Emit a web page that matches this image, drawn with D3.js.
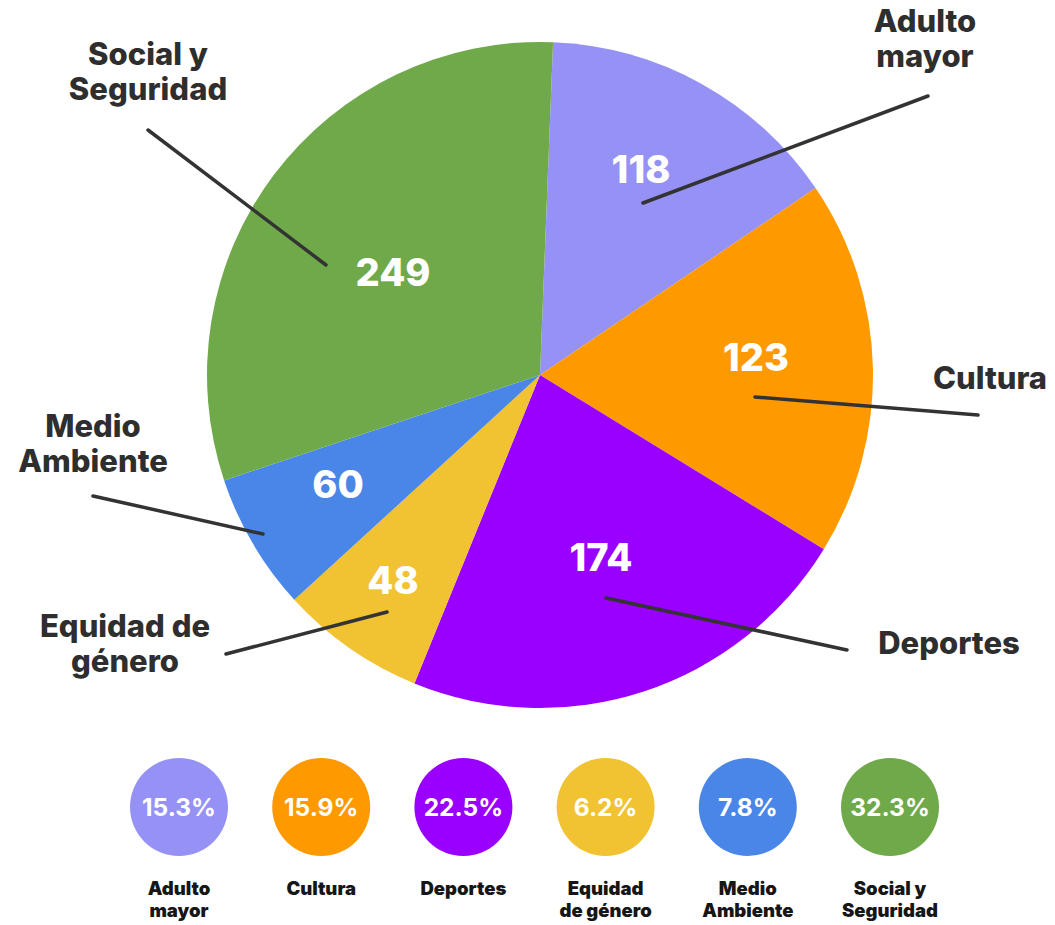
<!DOCTYPE html>
<html>
<head>
<meta charset="utf-8">
<script src="https://cdn.jsdelivr.net/npm/d3@7"></script>
<style>
  html, body { margin: 0; padding: 0; background: #ffffff; }
  svg { display: block; font-family: Inter, "Open Sans", "Noto Sans", sans-serif; }
</style>
</head>
<body>
<svg id="chart" width="1055" height="925"></svg>
<script>
// ---- data ----
const categories = ["Adulto mayor", "Cultura", "Deportes", "Equidad de género", "Medio Ambiente", "Social y Seguridad"];
const counts = [118, 123, 174, 48, 60, 249];
// sweep of each slice as drawn in the reference (degrees)
const sliceDegrees = [53.6, 65.7, 80.6, 25.4, 24.0, 110.7];
const colors = ["#9692f5", "#ff9900", "#9900ff", "#f1c232", "#4a86e8", "#6fa94a"];
// outer label lines
const outerLabelLines = [["Adulto", "mayor"], ["Cultura"], ["Deportes"], ["Equidad de", "género"], ["Medio", "Ambiente"], ["Social y", "Seguridad"]];
const legendLabelLines = [["Adulto", "mayor"], ["Cultura"], ["Deportes"], ["Equidad", "de género"], ["Medio", "Ambiente"], ["Social y", "Seguridad"]];

// ---- layout ----
const W = 1055, H = 925;
const cx = 540, cy = 375, R = 333;
const startDeg = 2.25;
// annotation offsets relative to the pie centre
const valueLabelOffset = [[101, -206], [216, -18], [61, 182], [-147, 205], [-202, 109], [-147, -103]];
const outerLabelAnchor = [[385, -343], [450, 14], [409, 279], [-415, 262], [-447, 62], [-392, -310]];
const leaderLines = [
  [[103, -172], [388, -279]],
  [[215, 22], [438, 40]],
  [[66, 223], [307, 275]],
  [[-153, 237], [-314, 279]],
  [[-277, 159], [-447, 121]],
  [[-214, -110], [-392, -245]]
];

const svg = d3.select("#chart");
const total = d3.sum(counts);
const rad = d => d * Math.PI / 180;

const pie = d3.pie()
  .sort(null)
  .value((d, i) => sliceDegrees[i])
  .startAngle(rad(startDeg))
  .endAngle(rad(startDeg) + 2 * Math.PI);

const arcs = pie(categories);
const arc = d3.arc().innerRadius(0).outerRadius(R);

const g = svg.append("g").attr("transform", `translate(${cx},${cy})`);

g.selectAll("path.slice")
  .data(arcs)
  .join("path")
  .attr("class", "slice")
  .attr("d", arc)
  .attr("fill", (d, i) => colors[i]);

// leader lines
g.selectAll("line.leader")
  .data(leaderLines)
  .join("line")
  .attr("class", "leader")
  .attr("x1", d => d[0][0]).attr("y1", d => d[0][1])
  .attr("x2", d => d[1][0]).attr("y2", d => d[1][1])
  .attr("stroke", "#333333")
  .attr("stroke-width", 3.5)
  .attr("stroke-linecap", "round");

// value labels inside slices
g.selectAll("text.val")
  .data(arcs)
  .join("text")
  .attr("class", "val")
  .attr("x", (d, i) => valueLabelOffset[i][0])
  .attr("y", (d, i) => valueLabelOffset[i][1])
  .attr("text-anchor", "middle")
  .attr("dy", "0.36em")
  .attr("fill", "#ffffff")
  .attr("font-size", 38)
  .attr("font-weight", 800)
  .text((d, i) => counts[i]);

// outer labels
categories.forEach((c, i) => {
  const t = g.append("text")
    .attr("text-anchor", "middle")
    .attr("fill", "#2e2e2e")
    .attr("font-size", 31)
    .attr("font-weight", 800);
  outerLabelLines[i].forEach((line, j) => {
    t.append("tspan")
      .attr("x", outerLabelAnchor[i][0])
      .attr("y", outerLabelAnchor[i][1] + j * 35)
      .text(line);
  });
});

// legend
const lx = d3.scalePoint().domain(categories).range([179, 890]);
const legendY = 807, legendR = 49;
const lg = svg.append("g");
lg.selectAll("circle")
  .data(categories)
  .join("circle")
  .attr("cx", d => lx(d))
  .attr("cy", legendY)
  .attr("r", legendR)
  .attr("fill", (d, i) => colors[i]);

lg.selectAll("text.pct")
  .data(categories)
  .join("text")
  .attr("class", "pct")
  .attr("x", d => lx(d))
  .attr("y", legendY)
  .attr("dy", "0.36em")
  .attr("text-anchor", "middle")
  .attr("fill", "#ffffff")
  .attr("font-size", 24.5)
  .attr("font-weight", 700)
  .text((d, i) => (counts[i] / total * 100).toFixed(1) + "%");

categories.forEach((c, i) => {
  const t = lg.append("text")
    .attr("text-anchor", "middle")
    .attr("fill", "#161616")
    .attr("font-size", 18.5)
    .attr("font-weight", 900);
  legendLabelLines[i].forEach((line, j) => {
    t.append("tspan")
      .attr("x", lx(c))
      .attr("y", 895 + j * 22)
      .text(line);
  });
});
</script>
</body>
</html>
